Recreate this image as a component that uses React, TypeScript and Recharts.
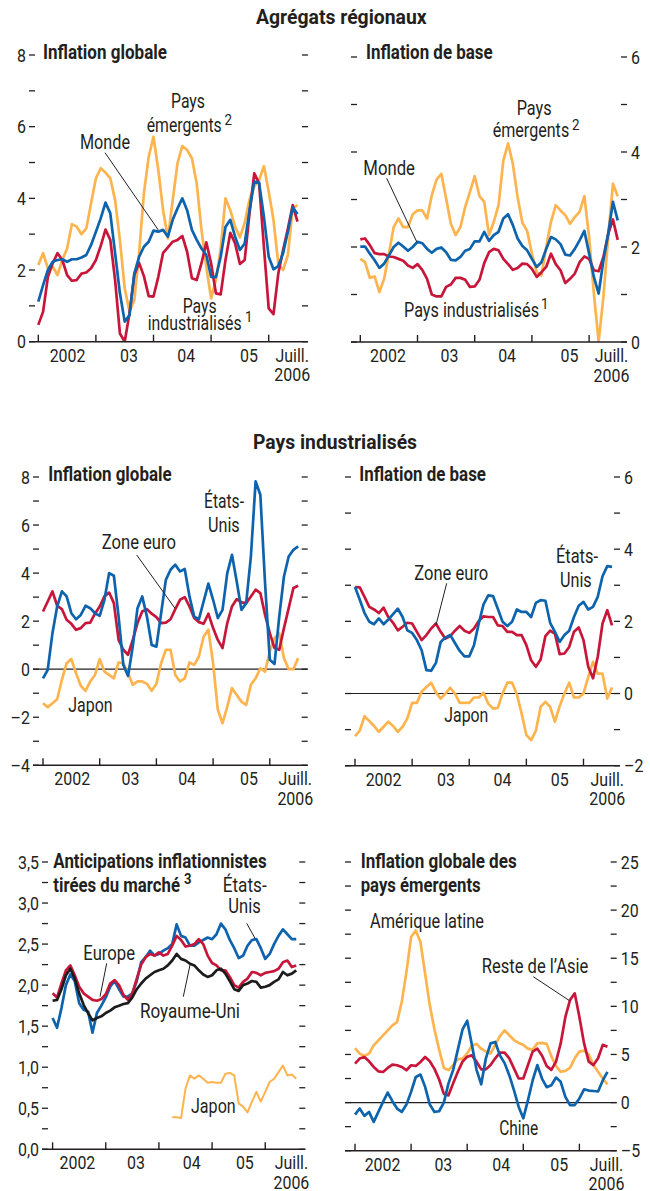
import React from "react";
import { LineChart, Line, XAxis, YAxis, ReferenceLine } from "recharts";

const FONT = "Roboto, 'Liberation Sans', Arial, sans-serif";
const INK = "#231f20";
const YELLOW = "#fdb44e";
const BLUE = "#0d63ad";
const RED = "#c8163a";
const BLACK = "#1c1c1c";
const SX = 0.84; // resserrement horizontal des libellés d'axes

// mois : 0 = janv. 2002 ... 54 = juill. 2006
const YEAR_LABELS = ["2002", "03", "04", "05", "Juill."];

// Agrégats régionaux — inflation globale
const globMonde = [1.12, 1.58, 2.0, 2.23, 2.28, 2.3, 2.23, 2.3, 2.3, 2.35, 2.42, 2.7, 3.07, 3.44, 3.88, 3.58, 2.47, 1.35, 0.56, 0.74, 1.9, 2.37, 2.65, 2.79, 3.1, 3.07, 3.12, 2.93, 3.4, 3.72, 4.0, 3.67, 3.12, 2.84, 2.6, 2.42, 1.81, 1.8, 2.37, 3.2, 3.4, 2.93, 2.56, 2.74, 3.67, 4.47, 4.44, 3.49, 2.37, 2.02, 2.11, 2.47, 3.07, 3.75, 3.56];
const globIndus = [0.47, 0.84, 1.81, 2.19, 2.47, 2.28, 1.86, 1.7, 1.72, 1.9, 1.93, 2.05, 2.28, 2.67, 3.13, 2.84, 1.72, 0.23, 0.0, 0.79, 1.86, 2.2, 1.83, 1.27, 1.26, 1.81, 2.48, 2.63, 2.79, 2.84, 2.95, 2.51, 1.77, 1.72, 2.19, 2.77, 2.19, 1.35, 1.32, 2.28, 3.04, 2.74, 2.17, 2.28, 3.58, 4.7, 4.42, 2.65, 0.93, 0.77, 1.9, 2.56, 3.16, 3.81, 3.35];
const globEmerg = [2.14, 2.47, 2.05, 2.09, 1.86, 2.28, 2.6, 3.28, 3.21, 3.0, 3.16, 3.86, 4.56, 4.84, 4.72, 4.56, 3.95, 2.84, 1.49, 0.84, 1.16, 2.47, 4.14, 5.16, 5.72, 4.79, 3.67, 2.88, 3.95, 4.98, 5.46, 5.35, 5.12, 4.42, 3.12, 2.09, 1.21, 1.72, 2.6, 4.0, 3.67, 3.21, 2.91, 3.32, 3.97, 4.33, 4.51, 4.9, 4.19, 3.4, 2.17, 2.0, 2.42, 3.72, 3.81];

// Agrégats régionaux — inflation de base
const baseMonde = [2.01, 2.01, 1.86, 1.72, 1.56, 1.65, 1.82, 2.0, 2.09, 2.01, 1.92, 2.0, 2.11, 2.08, 1.96, 1.88, 1.96, 1.99, 1.89, 1.73, 1.72, 1.79, 1.92, 1.96, 2.12, 2.12, 2.32, 2.13, 2.25, 2.32, 2.6, 2.69, 2.46, 2.18, 2.02, 1.93, 1.75, 1.58, 1.68, 1.96, 2.21, 2.16, 2.06, 1.84, 1.82, 1.96, 2.14, 2.34, 1.86, 1.37, 1.02, 1.72, 2.28, 2.95, 2.56];
const baseIndus = [2.16, 2.18, 2.04, 1.87, 1.85, 1.85, 1.8, 1.79, 1.75, 1.71, 1.61, 1.56, 1.64, 1.52, 1.33, 1.0, 0.96, 0.96, 1.16, 1.21, 1.35, 1.35, 1.31, 1.16, 1.17, 1.31, 1.66, 1.89, 1.96, 1.93, 1.75, 1.64, 1.52, 1.56, 1.65, 1.64, 1.54, 1.37, 1.47, 1.58, 1.86, 1.64, 1.51, 1.24, 1.33, 1.44, 1.68, 1.8, 1.75, 1.51, 1.49, 1.79, 2.28, 2.58, 2.15];
const baseEmerg = [1.75, 1.68, 1.35, 1.38, 1.05, 1.33, 1.86, 2.42, 2.6, 2.42, 2.42, 2.69, 2.77, 2.77, 2.6, 3.09, 3.42, 3.54, 3.02, 2.49, 2.25, 2.42, 2.84, 3.16, 3.49, 3.07, 2.95, 2.25, 2.53, 2.88, 3.82, 4.18, 3.75, 3.05, 2.51, 2.34, 1.86, 1.47, 1.4, 2.0, 2.53, 2.88, 2.77, 2.67, 2.49, 2.63, 2.74, 3.07, 2.21, 1.02, 0.0, 0.95, 2.21, 3.33, 3.07];

// Pays industrialisés — inflation globale
const piUS = [-0.38, -0.03, 1.5, 2.61, 3.24, 3.03, 2.33, 2.08, 2.26, 2.64, 2.54, 2.33, 2.22, 2.89, 4.0, 3.89, 2.19, 0.18, -0.28, 0.94, 2.54, 3.03, 2.19, 1.01, 0.94, 2.33, 3.72, 4.14, 4.35, 4.07, 4.17, 3.03, 2.19, 2.08, 2.82, 3.56, 2.89, 2.13, 2.47, 4.0, 4.76, 3.65, 2.47, 2.75, 4.69, 7.82, 7.26, 3.58, 0.39, 0.22, 2.19, 3.86, 4.69, 4.97, 5.11];
const piEuro = [2.4, 2.82, 3.24, 2.64, 2.5, 2.06, 1.89, 1.64, 1.71, 1.92, 1.94, 2.31, 2.61, 3.03, 3.19, 2.75, 1.22, 0.81, 0.6, 1.22, 1.92, 2.4, 2.5, 2.31, 2.17, 1.92, 1.94, 2.08, 2.5, 2.89, 3.0, 2.61, 2.13, 1.96, 1.89, 2.31, 1.71, 1.22, 0.88, 1.92, 2.61, 2.92, 2.78, 2.75, 3.03, 3.31, 3.17, 2.26, 1.5, 0.88, 0.81, 1.71, 2.54, 3.38, 3.47];
const piJapon = [-1.42, -1.58, -1.42, -1.25, -0.44, 0.25, 0.42, -0.17, -0.69, -0.9, -0.51, -0.24, 0.42, -0.1, -0.24, -0.38, 0.28, 0.25, -0.17, -0.65, -0.51, -0.51, -0.61, -0.9, -0.61, 0.25, 0.81, 0.81, -0.24, -0.51, -0.38, 0.28, 0.18, 0.53, 1.36, 1.64, 0.25, -1.69, -2.25, -1.56, -0.79, -1.07, -1.35, -1.49, -0.65, -0.38, 0.04, -0.1, 0.74, 1.29, 1.5, 0.46, 0.0, 0.0, 0.46];

// Pays industrialisés — inflation de base
const pbUS = [2.95, 2.6, 2.23, 1.99, 1.92, 2.08, 1.92, 2.05, 2.2, 2.35, 2.12, 1.75, 1.68, 1.48, 1.2, 0.65, 0.63, 0.85, 1.43, 1.55, 1.62, 1.4, 1.18, 1.03, 1.03, 1.34, 1.94, 2.47, 2.72, 2.7, 2.35, 1.99, 1.87, 1.99, 2.33, 2.26, 2.26, 2.12, 2.51, 2.59, 2.57, 1.96, 1.71, 1.43, 1.62, 1.74, 2.12, 2.43, 2.54, 2.33, 2.4, 2.68, 3.25, 3.53, 3.51];
const pbEuro = [2.95, 2.94, 2.68, 2.4, 2.33, 2.23, 2.38, 2.12, 1.96, 1.75, 1.85, 1.96, 1.94, 1.71, 1.48, 1.62, 1.8, 1.94, 1.71, 1.52, 1.59, 1.74, 1.87, 1.74, 1.68, 1.8, 2.01, 2.14, 2.12, 2.12, 1.89, 1.87, 1.71, 1.71, 1.62, 1.62, 1.34, 0.92, 0.74, 0.94, 1.59, 1.74, 1.66, 1.09, 1.11, 1.29, 1.71, 1.83, 1.48, 0.74, 0.42, 1.02, 1.94, 2.31, 1.89];
const pbJapon = [-1.18, -1.03, -0.63, -0.76, -0.9, -1.06, -0.92, -0.78, -0.9, -1.06, -0.92, -0.69, -0.26, -0.26, 0.05, 0.18, 0.3, 0.03, -0.14, 0.0, 0.16, 0.0, -0.26, -0.26, -0.26, -0.11, -0.11, 0.02, -0.28, -0.42, -0.4, 0.0, 0.3, 0.3, -0.02, -0.55, -1.15, -1.29, -1.03, -0.37, -0.23, -0.37, -0.78, -0.35, 0.0, 0.3, -0.11, -0.11, 0.0, 0.46, 0.88, 0.55, 0.55, -0.14, 0.17];

// Anticipations inflationnistes tirées du marché (0 = janv. 2002 ... 55)
const marUS = [1.6, 1.48, 1.72, 2.0, 2.13, 2.05, 1.78, 1.7, 1.68, 1.42, 1.66, 1.75, 1.85, 1.98, 2.05, 1.95, 1.86, 1.86, 1.9, 2.05, 2.28, 2.34, 2.42, 2.36, 2.38, 2.42, 2.45, 2.5, 2.74, 2.6, 2.58, 2.48, 2.48, 2.52, 2.55, 2.58, 2.56, 2.62, 2.75, 2.68, 2.55, 2.45, 2.33, 2.36, 2.48, 2.55, 2.56, 2.45, 2.32, 2.38, 2.5, 2.6, 2.68, 2.62, 2.56, 2.56];
const marEurope = [1.9, 1.85, 2.02, 2.18, 2.24, 2.12, 1.98, 1.9, 1.86, 1.82, 1.81, 1.83, 1.89, 2.02, 2.06, 2.0, 1.88, 1.82, 1.9, 2.08, 2.25, 2.34, 2.38, 2.36, 2.4, 2.36, 2.38, 2.48, 2.6, 2.55, 2.47, 2.48, 2.5, 2.56, 2.5, 2.36, 2.27, 2.24, 2.18, 2.18, 2.1, 2.0, 1.97, 2.04, 2.08, 2.16, 2.15, 2.12, 2.15, 2.16, 2.17, 2.2, 2.28, 2.3, 2.22, 2.24];
const marRU = [1.81, 1.82, 1.95, 2.12, 2.2, 2.08, 1.9, 1.76, 1.66, 1.57, 1.6, 1.62, 1.66, 1.69, 1.73, 1.75, 1.77, 1.78, 1.85, 1.95, 2.02, 2.08, 2.12, 2.16, 2.18, 2.2, 2.24, 2.3, 2.38, 2.32, 2.3, 2.26, 2.24, 2.18, 2.13, 2.1, 2.12, 2.18, 2.2, 2.14, 2.05, 1.95, 1.93, 2.0, 2.02, 2.05, 2.04, 1.97, 1.98, 2.0, 2.04, 2.07, 2.16, 2.12, 2.14, 2.18];
const marJaponStart = 27;
const marJapon = [0.39, 0.39, 0.38, 0.74, 0.9, 0.86, 0.9, 0.86, 0.81, 0.82, 0.81, 0.81, 0.92, 0.93, 0.9, 0.56, 0.52, 0.45, 0.58, 0.7, 0.58, 0.7, 0.82, 0.86, 0.94, 1.02, 0.9, 0.91, 0.86];

// Inflation globale des pays émergents
const emLatAm = [5.67, 5.09, 4.84, 5.09, 5.95, 6.47, 6.99, 7.51, 8.03, 8.37, 10.45, 13.56, 17.2, 17.89, 16.68, 13.39, 10.1, 7.6, 5.5, 3.6, 3.38, 3.9, 4.5, 4.57, 5.11, 5.9, 6.1, 5.6, 5.3, 5.1, 6.0, 6.9, 7.5, 7.0, 6.5, 6.2, 6.0, 5.6, 5.5, 6.15, 6.2, 6.1, 4.8, 3.8, 3.2, 3.3, 3.6, 4.6, 5.3, 5.4, 5.0, 3.9, 3.2, 2.5, 1.9];
const emAsie = [4.05, 4.57, 4.74, 4.29, 3.7, 3.25, 3.18, 3.6, 3.94, 3.88, 3.7, 3.36, 3.88, 3.81, 4.22, 4.74, 4.29, 3.5, 2.4, 0.9, 0.75, 2.0, 3.2, 4.25, 4.76, 4.9, 4.25, 3.45, 3.45, 3.9, 4.6, 5.2, 5.2, 4.6, 3.55, 2.5, 2.5, 3.9, 5.3, 5.6, 4.9, 3.8, 3.4, 4.25, 6.15, 8.9, 10.65, 11.35, 8.9, 6.15, 4.25, 3.9, 4.6, 6.0, 5.8];
const emChine = [-1.25, -0.62, -1.38, -0.97, -2.0, -0.97, 0.07, 1.04, 0.14, -0.62, -0.97, -0.21, 1.11, 2.66, 2.91, 1.63, -0.21, -0.97, -0.9, 0.0, 2.0, 3.4, 5.5, 7.6, 8.5, 6.0, 3.4, 1.9, 4.6, 6.15, 6.3, 4.9, 4.1, 2.85, 1.3, -0.43, -1.64, 0.26, 2.3, 3.9, 2.5, 1.6, 1.8, 2.6, 2.16, 0.6, -0.26, -0.26, 0.43, 1.37, 1.25, 1.2, 1.15, 2.3, 3.2];

type Row = Record<string, number | null>;

function buildRows(cols: Record<string, number[]>, n: number, starts: Record<string, number> = {}): Row[] {
  return Array.from({ length: n }, (_, i) => {
    const r: Row = { m: i };
    for (const k of Object.keys(cols)) {
      const v = cols[k][i - (starts[k] ?? 0)];
      r[k] = v === undefined ? null : v;
    }
    return r;
  });
}

type LineCfg = { key: string; color: string; width: number };
type PanelCfg = {
  left: number; right: number; top: number; bottom: number;
  yMin: number; yMax: number; step: number; labelStep: number;
  side: "left" | "right"; comma?: boolean;
  x0: number; mpx: number; yearPos: number[];
  zero?: boolean;
  rows: Row[]; lines: LineCfg[];
};

const fmtY = (v: number, comma?: boolean) => {
  if (comma) return v.toFixed(1).replace(".", ",");
  return v < 0 ? "\u2013" + Math.abs(v) : String(v);
};

// texte d'axe, resserré horizontalement
function AxText({ x, y, anchor, children }: { x: number; y: number; anchor: "start" | "middle" | "end"; children: React.ReactNode }) {
  return (
    <text transform={`translate(${x},${y}) scale(${SX},1)`} x={0} y={0} textAnchor={anchor}
      fontSize={19} fill={INK} fontFamily={FONT}>{children}</text>
  );
}

function Panel({ cfg }: { cfg: PanelCfg }) {
  const padX = 45, padTop = 10, axisH = 50;
  const w = cfg.right - cfg.left + 2 * padX;
  const h = cfg.bottom - cfg.top + padTop + axisH;
  const dMin = (cfg.left - cfg.x0) / cfg.mpx;
  const dMax = (cfg.right - cfg.x0) / cfg.mpx;

  const yTicks: number[] = [];
  for (let k = 0; cfg.yMin + k * cfg.step <= cfg.yMax + 1e-9; k++) {
    yTicks.push(+(cfg.yMin + k * cfg.step).toFixed(3));
  }
  const isLabel = (v: number) => Math.abs(v / cfg.labelStep - Math.round(v / cfg.labelStep)) < 1e-6;

  const yearMap = new Map<number, string>();
  cfg.yearPos.forEach((p, i) => yearMap.set(p, YEAR_LABELS[i]));
  const xTicks = [0, 12, 24, 36, 48, ...cfg.yearPos];

  const yTick = (side: "left" | "right") => (p: any) => {
    const v = p.payload.value as number;
    const dir = side === "left" ? 1 : -1;
    const show = side === cfg.side && isLabel(v);
    return (
      <g>
        <line x1={p.x} x2={p.x + 6 * dir} y1={p.y} y2={p.y} stroke={INK} strokeWidth={1.3} />
        {show && (
          <AxText x={side === "left" ? p.x - 3 : p.x + 4} y={p.y + 6.8} anchor={side === "left" ? "end" : "start"}>
            {fmtY(v, cfg.comma)}
          </AxText>
        )}
      </g>
    );
  };

  const xTick = (p: any) => {
    const v = p.payload.value as number;
    const lab = yearMap.get(v);
    if (lab === undefined) {
      return <line x1={p.x} x2={p.x} y1={p.y} y2={p.y - 7} stroke={INK} strokeWidth={1.4} />;
    }
    if (lab === "Juill.") {
      return (
        <g>
          <AxText x={p.x} y={p.y + 20} anchor="middle">Juill.</AxText>
          <AxText x={p.x} y={p.y + 39.5} anchor="middle">2006</AxText>
        </g>
      );
    }
    return <AxText x={p.x} y={p.y + 20} anchor="middle">{lab}</AxText>;
  };

  return (
    <div style={{ position: "absolute", left: cfg.left - padX, top: cfg.top - padTop }}>
      <LineChart width={w} height={h} data={cfg.rows} margin={{ top: padTop, left: padX - 1, right: padX - 1, bottom: 0 }}>
        <XAxis xAxisId="x" type="number" dataKey="m" domain={[dMin, dMax]} allowDataOverflow ticks={xTicks} interval={0}
          tickLine={false} tickSize={0} tickMargin={0} height={axisH}
          axisLine={{ stroke: INK, strokeWidth: 1.4 }} tick={xTick} />
        <YAxis yAxisId="l" orientation="left" width={1} domain={[cfg.yMin, cfg.yMax]} allowDataOverflow ticks={yTicks}
          interval={0} tickLine={false} axisLine={false} tickSize={0} tickMargin={0} tick={yTick("left")} />
        <YAxis yAxisId="r" orientation="right" width={1} domain={[cfg.yMin, cfg.yMax]} allowDataOverflow ticks={yTicks}
          interval={0} tickLine={false} axisLine={false} tickSize={0} tickMargin={0} tick={yTick("right")} />
        {cfg.zero && <ReferenceLine xAxisId="x" yAxisId="l" y={0} stroke={INK} strokeWidth={1.2} />}
        {cfg.lines.map((l) => (
          <Line key={l.key} xAxisId="x" yAxisId="l" type="linear" dataKey={l.key} stroke={l.color} strokeWidth={l.width}
            dot={false} activeDot={false} strokeLinejoin="round" isAnimationActive={false} />
        ))}
      </LineChart>
    </div>
  );
}

const W = 2.7;

const panels: PanelCfg[] = [
  {
    left: 29, right: 308, top: 55, bottom: 341.7, yMin: 0, yMax: 8, step: 1, labelStep: 2, side: "left",
    x0: 38.3, mpx: 4.8, yearPos: [6.1, 18.9, 30.8, 43.9, 52.9],
    rows: buildRows({ em: globEmerg, ind: globIndus, mo: globMonde }, 55),
    lines: [{ key: "em", color: YELLOW, width: W }, { key: "ind", color: RED, width: W }, { key: "mo", color: BLUE, width: W }],
  },
  {
    left: 350.7, right: 626.7, top: 56.7, bottom: 341.7, yMin: 0, yMax: 6, step: 1, labelStep: 2, side: "right",
    x0: 360, mpx: 4.767, yearPos: [5.8, 18.7, 30.8, 43.9, 52.7],
    rows: buildRows({ em: baseEmerg, ind: baseIndus, mo: baseMonde }, 55),
    lines: [{ key: "em", color: YELLOW, width: W }, { key: "ind", color: RED, width: W }, { key: "mo", color: BLUE, width: W }],
  },
  {
    left: 33.3, right: 308, top: 476.7, bottom: 765, yMin: -4, yMax: 8, step: 1, labelStep: 2, side: "left",
    x0: 43.3, mpx: 4.725, yearPos: [6.2, 18.5, 30.5, 43.6, 53.4], zero: true,
    rows: buildRows({ jp: piJapon, eu: piEuro, us: piUS }, 55),
    lines: [{ key: "jp", color: YELLOW, width: W }, { key: "eu", color: RED, width: W }, { key: "us", color: BLUE, width: W }],
  },
  {
    left: 345, right: 620, top: 477.3, bottom: 766, yMin: -2, yMax: 6, step: 1, labelStep: 2, side: "right",
    x0: 355, mpx: 4.76, yearPos: [6.0, 19.1, 31.0, 43.0, 53.0], zero: true,
    rows: buildRows({ jp: pbJapon, eu: pbEuro, us: pbUS }, 55),
    lines: [{ key: "jp", color: YELLOW, width: W }, { key: "eu", color: RED, width: W }, { key: "us", color: BLUE, width: W }],
  },
  {
    left: 41.7, right: 305, top: 861.7, bottom: 1149, yMin: 0, yMax: 3.5, step: 0.25, labelStep: 0.5, side: "left", comma: true,
    x0: 52.3, mpx: 4.43, yearPos: [5.6, 18.8, 31.4, 43.4, 53.9],
    rows: buildRows({ us: marUS, eu: marEurope, ru: marRU, jp: marJapon }, 56, { jp: marJaponStart }),
    lines: [{ key: "us", color: BLUE, width: 2.7 }, { key: "eu", color: RED, width: 2.7 }, { key: "ru", color: BLACK, width: 2.7 }, { key: "jp", color: YELLOW, width: 2 }],
  },
  {
    left: 345, right: 616.7, top: 862.3, bottom: 1151, yMin: -5, yMax: 25, step: 2.5, labelStep: 5, side: "right",
    x0: 355, mpx: 4.675, yearPos: [5.9, 18.9, 31.3, 43.7, 53.8], zero: true,
    rows: buildRows({ la: emLatAm, as: emAsie, ch: emChine }, 55),
    lines: [{ key: "la", color: YELLOW, width: W }, { key: "as", color: RED, width: W }, { key: "ch", color: BLUE, width: W }],
  },
];

function Txt({ x, y, w, bold, size = 19.5, anchor = "start", children }:
  { x: number; y: number; w?: number; bold?: boolean; size?: number; anchor?: "start" | "middle"; children: React.ReactNode }) {
  const fit = w ? { textLength: w, lengthAdjust: "spacingAndGlyphs" as const } : {};
  return (
    <text x={x} y={y} fontSize={size} fontWeight={bold ? 700 : 400} fill={INK} textAnchor={anchor} {...fit}>{children}</text>
  );
}

const Sup = ({ x, y, n, bold }: { x: number; y: number; n: string; bold?: boolean }) => (
  <Txt x={x} y={y} size={14} w={7.5} bold={bold}>{n}</Txt>
);

export default function App() {
  const lead = { stroke: INK, strokeWidth: 1 };
  return (
    <div style={{ position: "absolute", left: 0, top: 0, width: 650, height: 1191, background: "#fff", overflow: "hidden" }}>
      {panels.map((p, i) => <Panel key={i} cfg={p} />)}
      <svg width={650} height={1191} style={{ position: "absolute", left: 0, top: 0, pointerEvents: "none" }} fontFamily={FONT}>
        <Txt x={256} y={24} w={170.7} bold>Agrégats régionaux</Txt>
        <Txt x={253} y={449} w={164} bold>Pays industrialisés</Txt>

        <Txt x={43} y={58.5} w={124} bold>Inflation globale</Txt>
        <Txt x={366} y={58.5} w={126.7} bold>Inflation de base</Txt>
        <Txt x={48.3} y={480.5} w={123.3} bold>Inflation globale</Txt>
        <Txt x={359.3} y={480.5} w={126.7} bold>Inflation de base</Txt>
        <Txt x={53.3} y={867.5} w={213.3} bold>Anticipations inflationnistes</Txt>
        <Txt x={53.3} y={891.5} w={126.7} bold>tirées du marché</Txt>
        <Sup x={184} y={884} n="3" bold />
        <Txt x={360.7} y={867.5} w={156} bold>Inflation globale des</Txt>
        <Txt x={360.7} y={891.5} w={120} bold>pays émergents</Txt>

        {/* panneau 1 */}
        <Txt x={171} y={108.3} w={34}>Pays</Txt>
        <Txt x={146.7} y={131.7} w={75}>émergents</Txt>
        <Sup x={224.5} y={125} n="2" />
        <Txt x={80} y={149.3} w={50}>Monde</Txt>
        <line x1={105} y1={152.7} x2={158.3} y2={230} {...lead} />
        <Txt x={182.7} y={313.3} w={34}>Pays</Txt>
        <Txt x={147.7} y={330} w={94}>industrialisés</Txt>
        <Sup x={245} y={322} n="1" />

        {/* panneau 2 */}
        <Txt x={516.7} y={115} w={35}>Pays</Txt>
        <Txt x={492.7} y={136.7} w={76.5}>émergents</Txt>
        <Sup x={572} y={130} n="2" />
        <Txt x={363.3} y={175} w={51.7}>Monde</Txt>
        <line x1={386.7} y1={178.3} x2={416.7} y2={241.7} {...lead} />
        <Txt x={404} y={316.7} w={135}>Pays industrialisés</Txt>
        <Sup x={541} y={309} n="1" />

        {/* panneau 3 */}
        <Txt x={204} y={508.3} w={40}>États-</Txt>
        <Txt x={208} y={531.7} w={31.7}>Unis</Txt>
        <Txt x={101.7} y={549.3} w={74.3}>Zone euro</Txt>
        <line x1={136.7} y1={555} x2={175} y2={608.3} {...lead} />
        <Txt x={68.3} y={711.7} w={44.3}>Japon</Txt>

        {/* panneau 4 */}
        <Txt x={556} y={563.3} w={42}>États-</Txt>
        <Txt x={560} y={587.3} w={31.7}>Unis</Txt>
        <Txt x={414.3} y={580} w={74}>Zone euro</Txt>
        <line x1={446.7} y1={583.3} x2={436} y2={625} {...lead} />
        <Txt x={444.3} y={721.7} w={44}>Japon</Txt>

        {/* panneau 5 */}
        <Txt x={222.7} y={891.7} w={44}>États-</Txt>
        <Txt x={228.3} y={913.3} w={32.4}>Unis</Txt>
        <line x1={246.7} y1={923.3} x2={255} y2={938.3} {...lead} />
        <Txt x={83.3} y={960} w={51.7}>Europe</Txt>
        <line x1={106.7} y1={963.3} x2={100} y2={996.7} {...lead} />
        <Txt x={140} y={1018.3} w={100}>Royaume-Uni</Txt>
        <line x1={183.3} y1={996.7} x2={190} y2={965} {...lead} />
        <Txt x={191} y={1113.3} w={44.7}>Japon</Txt>

        {/* panneau 6 */}
        <Txt x={370} y={927.7} w={114}>Amérique latine</Txt>
        <Txt x={481.7} y={973.3} w={106.7}>Reste de l’Asie</Txt>
        <line x1={533.3} y1={976.7} x2={570} y2={1001} {...lead} />
        <Txt x={499.3} y={1135} w={39}>Chine</Txt>
      </svg>
    </div>
  );
}
